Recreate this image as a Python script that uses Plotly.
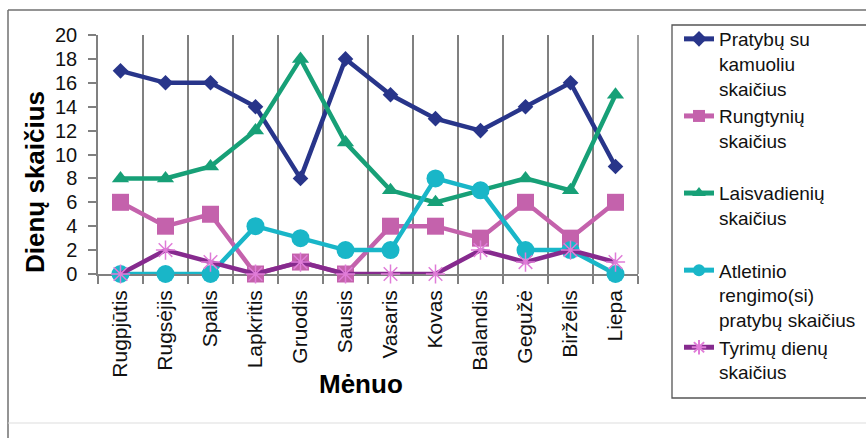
import plotly.graph_objects as go

months = ["Rugpjūtis", "Rugsėjis", "Spalis", "Lapkritis", "Gruodis", "Sausis",
          "Vasaris", "Kovas", "Balandis", "Gegužė", "Birželis", "Liepa"]
pratybos = [17, 16, 16, 14, 8, 18, 15, 13, 12, 14, 16, 9]
rungtynes = [6, 4, 5, 0, 1, 0, 4, 4, 3, 6, 3, 6]
laisvadieniai = [8, 8, 9, 12, 18, 11, 7, 6, 7, 8, 7, 15]
atletinis = [0, 0, 0, 4, 3, 2, 2, 8, 7, 2, 2, 0]
tyrimai = [0, 2, 1, 0, 1, 0, 0, 0, 2, 1, 2, 1]

names = ["Pratybų su<br>kamuoliu<br>skaičius",
         "Rungtynių<br>skaičius<br>&nbsp;",
         "Laisvadienių<br>skaičius<br>&nbsp;",
         "Atletinio<br>rengimo(si)<br>pratybų skaičius",
         "Tyrimų dienų<br>skaičius"]
y_ticks = [0, 2, 4, 6, 8, 10, 12, 14, 16, 18, 20]

W, H = 866, 438
L, R, T, B = 98, 228, 35, 164
PW, PH = W - L - R, H - T - B


def px(x):
    return (x - L) / PW


def py(y):
    return (H - B - y) / PH


FONT = "Liberation Sans, Arial, sans-serif"

styles = [
    dict(color="#28358A", symbol="diamond", size=12, mcolor="#28358A", mline=0),
    dict(color="#C462AC", symbol="square", size=17, mcolor="#C462AC", mline=0),
    dict(color="#17A077", symbol="triangle-up", size=15, mcolor="#17A077", mline=0),
    dict(color="#19B6C8", symbol="circle", size=18, mcolor="#19B6C8", mline=0),
    dict(color="#862A8E", symbol="asterisk", size=16, mcolor="#E07CD8", mline=1.5),
]
data = [pratybos, rungtynes, laisvadieniai, atletinis, tyrimai]

fig = go.Figure()
for nm, vals, st in zip(names, data, styles):
    fig.add_trace(go.Scatter(
        x=months, y=vals, name=nm, mode="lines+markers",
        line=dict(color=st["color"], width=4.5),
        marker=dict(symbol=st["symbol"], size=st["size"], color=st["mcolor"],
                    line=dict(color=st["mcolor"], width=st["mline"])),
        cliponaxis=False,
    ))

fig.update_layout(
    width=W, height=H,
    margin=dict(l=L, r=R, t=T, b=B, pad=0, autoexpand=False),
    paper_bgcolor="white", plot_bgcolor="white",
    font=dict(family=FONT, color="#111111"),
    showlegend=True,
    legend=dict(
        x=px(679), y=py(20), xanchor="left", yanchor="top",
        borderwidth=0, bgcolor="rgba(0,0,0,0)",
        font=dict(family=FONT, size=19, color="#111111"),
        valign="top", itemsizing="constant", tracegroupgap=0,
        maxheight=420,
    ),
    xaxis=dict(
        type="category", tickson="boundaries", showgrid=True,
        gridcolor="#808080", gridwidth=1.5,
        showline=True, linecolor="#808080", linewidth=1.5,
        ticks="outside", ticklen=8, tickcolor="#808080", tickwidth=1.5,
        tickangle=-90, tickfont=dict(family=FONT, size=21, color="#111111"),
        ticklabelstandoff=6, automargin=False,
        range=[-0.5, 11.5], layer="below traces", zeroline=False,
    ),
    yaxis=dict(
        range=[0, 20], tickvals=y_ticks, showgrid=False, zeroline=False,
        showline=True, linecolor="#808080", linewidth=1.5,
        ticks="outside", ticklen=8, tickcolor="#808080", tickwidth=1.5,
        tickfont=dict(family=FONT, size=20, color="#111111"),
        ticklabelstandoff=7, layer="below traces", automargin=False,
    ),
    annotations=[
        dict(text="<b>Dienų skaičius</b>", x=px(35), y=py(182), xref="paper", yref="paper",
             xanchor="center", yanchor="middle",
             textangle=-90, showarrow=False, font=dict(family=FONT, size=26, color="#000000")),
        dict(text="<b>Mėnuo</b>", x=px(361), y=py(384), xref="paper", yref="paper",
             xanchor="center", yanchor="middle",
             showarrow=False, font=dict(family=FONT, size=26, color="#000000")),
    ],
    shapes=[
        dict(type="line", xref="paper", yref="paper", x0=px(8), x1=px(870), y0=py(10), y1=py(10),
             line=dict(color="#707070", width=1.5)),
        dict(type="line", xref="paper", yref="paper", x0=px(8), x1=px(8), y0=py(10), y1=py(440),
             line=dict(color="#707070", width=1.5)),
        dict(type="line", xref="paper", yref="paper", x0=px(8), x1=px(870), y0=py(423), y1=py(423),
             line=dict(color="#DDDDDD", width=1)),
        dict(type="line", xref="paper", yref="paper", x0=1, x1=1, y0=0, y1=1,
             line=dict(color="#808080", width=1.5), layer="below"),
        dict(type="rect", xref="paper", yref="paper", x0=px(672), x1=px(880), y0=py(25), y1=py(398),
             line=dict(color="#555555", width=1.3), layer="below"),
    ],
)

fig.write_html("out.html")
